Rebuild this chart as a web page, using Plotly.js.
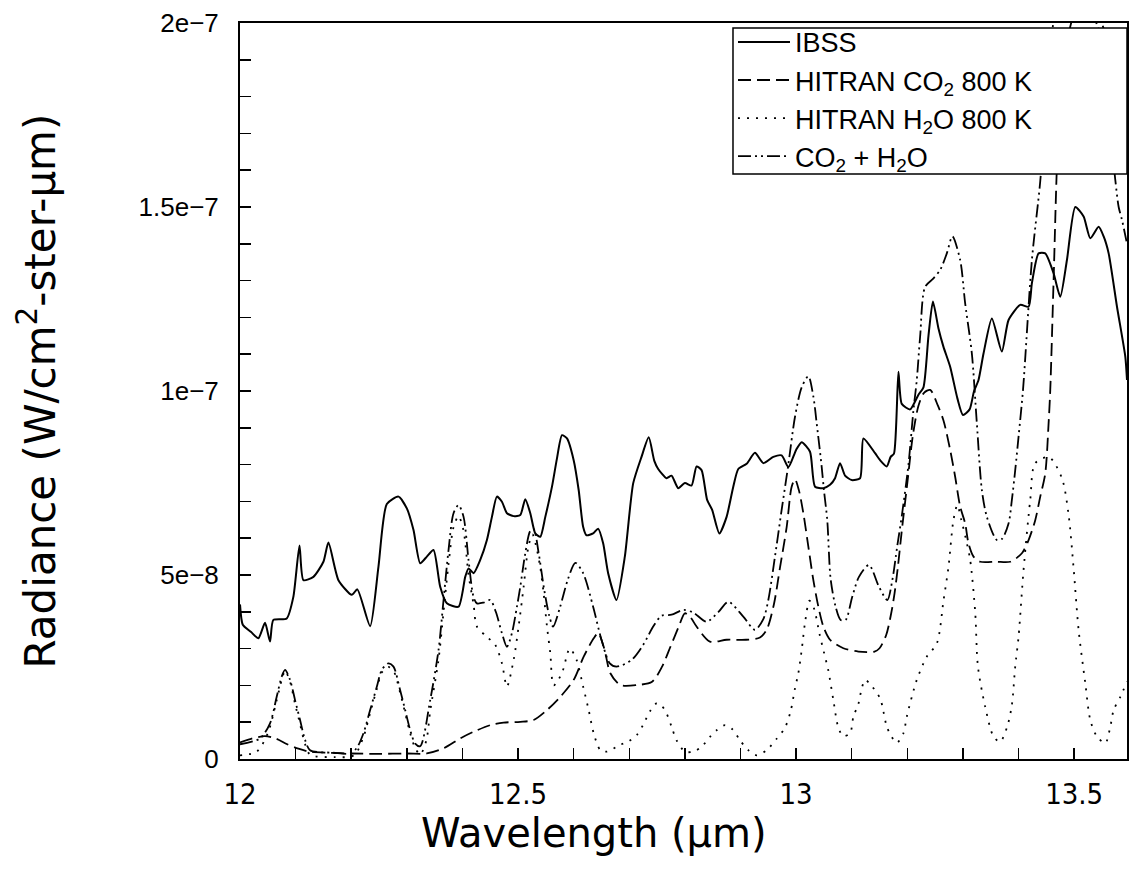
<!DOCTYPE html>
<html>
<head>
<meta charset="utf-8">
<script src="https://cdn.plot.ly/plotly-3.0.1.min.js"></script>
<style>
html,body{margin:0;padding:0;background:#fff;}
#chart{width:1132px;height:870px;}
</style>
</head>
<body>
<div id="chart"></div>
<script>
// Radiance values are given in units of 1e-8 W/cm2-ster-um
const UNIT = 1e-8;

const ibssX = [12.000,12.005,12.020,12.033,12.045,12.054,12.060,12.084,12.096,12.107,12.114,12.132,12.150,12.159,12.177,12.201,12.211,12.234,12.249,12.264,12.285,12.300,12.312,12.324,12.336,12.348,12.360,12.372,12.393,12.405,12.411,12.420,12.432,12.444,12.453,12.462,12.471,12.480,12.492,12.504,12.513,12.522,12.531,12.540,12.549,12.561,12.570,12.579,12.588,12.600,12.609,12.617,12.623,12.635,12.644,12.653,12.662,12.677,12.692,12.707,12.722,12.735,12.745,12.752,12.767,12.776,12.788,12.800,12.812,12.821,12.830,12.840,12.849,12.862,12.875,12.887,12.896,12.911,12.926,12.941,12.959,12.974,12.986,13.000,13.010,13.025,13.034,13.049,13.061,13.070,13.079,13.088,13.100,13.115,13.121,13.142,13.151,13.163,13.170,13.176,13.184,13.190,13.205,13.220,13.229,13.238,13.246,13.256,13.265,13.277,13.290,13.300,13.312,13.320,13.328,13.337,13.352,13.370,13.382,13.403,13.418,13.424,13.436,13.448,13.463,13.475,13.487,13.502,13.517,13.529,13.544,13.553,13.562,13.577,13.592,13.595];
const ibssY = [4.20,3.65,3.45,3.28,3.70,3.19,3.78,3.82,4.41,5.80,4.86,4.95,5.36,5.88,4.86,4.46,4.61,3.61,5.23,6.93,7.13,6.81,6.22,5.32,5.50,5.68,4.68,4.23,4.14,4.95,5.18,5.05,5.41,5.95,6.58,7.13,6.99,6.68,6.60,6.63,7.06,6.68,6.13,6.04,6.58,7.40,8.17,8.80,8.71,8.12,7.31,6.31,6.08,6.13,6.26,5.86,5.05,4.32,5.50,7.49,8.21,8.74,8.10,7.88,7.63,7.70,7.36,7.50,7.43,7.95,7.85,7.04,6.77,6.13,6.58,7.40,7.88,8.02,8.32,8.04,8.21,8.25,7.93,8.40,8.61,8.35,7.40,7.36,7.45,7.63,8.04,7.70,7.58,7.63,8.71,8.31,8.12,7.95,8.21,8.30,10.52,9.65,9.50,9.90,10.10,11.50,12.43,11.70,11.20,10.66,9.80,9.35,9.50,10.00,10.30,11.02,11.97,11.07,11.93,12.34,12.29,12.93,13.74,13.74,13.20,12.56,13.56,15.00,14.74,14.15,14.46,14.20,13.74,12.29,10.93,10.30];

const co2X = [12.000,12.020,12.045,12.065,12.085,12.105,12.125,12.160,12.200,12.250,12.300,12.336,12.366,12.396,12.420,12.450,12.474,12.504,12.528,12.552,12.576,12.600,12.618,12.636,12.644,12.655,12.666,12.684,12.714,12.741,12.759,12.774,12.789,12.800,12.810,12.821,12.845,12.875,12.910,12.935,12.947,12.960,12.971,12.983,12.992,12.998,13.005,13.013,13.022,13.031,13.040,13.049,13.061,13.085,13.112,13.141,13.150,13.162,13.171,13.177,13.183,13.190,13.200,13.210,13.220,13.230,13.241,13.255,13.265,13.277,13.286,13.295,13.304,13.310,13.319,13.331,13.360,13.385,13.406,13.418,13.430,13.439,13.448,13.454,13.457,13.463,13.470,13.480,13.520,13.560,13.595];
const co2Y = [0.45,0.55,0.62,0.55,0.40,0.28,0.20,0.17,0.15,0.14,0.15,0.15,0.29,0.56,0.74,0.92,0.99,1.01,1.06,1.33,1.69,2.15,2.78,3.28,3.42,3.00,2.33,2.01,2.01,2.10,2.51,3.05,3.60,3.96,3.85,3.60,3.19,3.24,3.24,3.30,3.51,4.20,5.20,6.30,7.40,7.60,7.30,6.68,5.77,4.86,4.14,3.60,3.24,3.01,2.92,2.92,3.01,3.37,3.96,4.50,5.22,6.20,7.50,8.80,9.60,9.95,10.03,9.60,9.20,8.40,7.67,6.86,6.40,5.86,5.50,5.36,5.36,5.36,5.59,5.95,6.49,7.13,7.76,9.12,10.03,13.00,16.50,19.00,21.00,19.50,17.00];

const h2oX = [12.000,12.030,12.050,12.066,12.075,12.081,12.090,12.099,12.108,12.117,12.126,12.170,12.205,12.222,12.234,12.246,12.255,12.267,12.276,12.288,12.297,12.306,12.315,12.324,12.335,12.342,12.357,12.366,12.375,12.384,12.393,12.402,12.411,12.420,12.426,12.444,12.459,12.471,12.480,12.492,12.501,12.510,12.519,12.526,12.534,12.540,12.546,12.552,12.558,12.564,12.579,12.593,12.605,12.617,12.627,12.636,12.648,12.660,12.684,12.699,12.714,12.725,12.737,12.749,12.758,12.767,12.776,12.785,12.800,12.815,12.830,12.845,12.857,12.872,12.886,12.899,12.914,12.929,12.947,12.965,12.980,12.990,12.998,13.004,13.010,13.016,13.024,13.032,13.042,13.050,13.058,13.067,13.076,13.085,13.097,13.103,13.112,13.118,13.124,13.135,13.151,13.157,13.163,13.172,13.181,13.193,13.199,13.217,13.235,13.253,13.265,13.274,13.283,13.290,13.297,13.305,13.313,13.322,13.327,13.340,13.355,13.367,13.380,13.388,13.394,13.400,13.409,13.421,13.430,13.455,13.478,13.490,13.499,13.508,13.520,13.529,13.541,13.556,13.565,13.571,13.583,13.595];
const h2oY = [0.10,0.20,0.70,1.60,2.15,2.40,2.10,1.50,0.95,0.40,0.12,0.05,0.10,0.60,1.25,1.90,2.35,2.50,2.40,1.80,1.25,0.70,0.30,0.12,0.50,1.30,2.70,4.00,5.30,6.30,6.60,6.20,5.00,4.20,3.60,3.32,3.10,2.60,1.97,2.69,3.60,4.68,5.80,6.10,5.68,5.20,4.50,3.60,2.87,2.00,2.34,3.00,2.70,1.97,1.33,0.70,0.24,0.20,0.39,0.48,0.66,0.93,1.29,1.51,1.45,1.24,0.88,0.51,0.20,0.20,0.33,0.60,0.78,0.92,0.80,0.51,0.24,0.10,0.24,0.55,0.85,1.29,1.92,2.33,2.96,3.70,4.30,4.10,3.40,2.90,2.40,1.60,0.85,0.62,0.70,1.15,1.50,1.92,2.15,2.00,1.65,1.29,0.88,0.60,0.44,0.70,1.15,2.15,2.78,3.14,4.30,5.22,6.50,6.90,6.50,6.00,5.41,4.00,2.51,1.42,0.61,0.47,0.90,1.47,2.51,3.32,5.14,7.04,8.04,8.20,7.63,6.63,5.18,3.50,2.06,1.06,0.61,0.43,0.88,1.33,1.69,2.10];

const sumX = [12.000,12.036,12.054,12.066,12.075,12.081,12.090,12.099,12.108,12.117,12.126,12.168,12.198,12.210,12.222,12.234,12.246,12.255,12.267,12.276,12.288,12.297,12.306,12.315,12.324,12.342,12.357,12.366,12.375,12.384,12.393,12.402,12.411,12.420,12.426,12.438,12.450,12.460,12.471,12.480,12.489,12.498,12.504,12.513,12.522,12.528,12.537,12.547,12.556,12.563,12.575,12.590,12.603,12.617,12.635,12.650,12.665,12.677,12.704,12.725,12.743,12.758,12.776,12.797,12.815,12.839,12.860,12.878,12.905,12.926,12.941,12.950,12.962,12.974,12.986,12.998,13.010,13.022,13.031,13.037,13.046,13.050,13.056,13.062,13.071,13.080,13.089,13.101,13.113,13.131,13.149,13.164,13.173,13.182,13.190,13.202,13.211,13.217,13.223,13.232,13.247,13.259,13.271,13.281,13.295,13.304,13.316,13.325,13.334,13.343,13.361,13.370,13.382,13.388,13.394,13.400,13.408,13.424,13.439,13.450,13.480,13.540,13.565,13.574,13.580,13.586,13.595];
const sumY = [0.40,0.56,0.97,1.69,2.24,2.42,2.15,1.60,1.06,0.52,0.24,0.17,0.15,0.30,0.70,1.33,1.96,2.42,2.60,2.51,1.87,1.33,0.79,0.42,0.35,1.60,2.96,4.32,5.68,6.68,6.90,6.58,5.40,4.40,4.23,4.25,4.32,4.00,3.42,3.05,3.42,4.14,4.68,5.59,6.20,6.25,5.60,4.60,3.90,3.60,4.10,4.90,5.33,5.05,4.14,3.24,2.60,2.51,2.69,3.10,3.60,3.89,3.92,4.05,3.98,3.73,3.99,4.27,3.87,3.51,3.80,4.32,5.50,6.77,8.00,9.30,10.10,10.40,9.85,9.12,7.94,7.31,6.49,4.90,4.14,3.78,3.78,4.41,4.95,5.27,4.68,4.32,4.86,5.80,6.60,8.00,9.48,10.30,11.48,12.83,13.06,13.29,13.74,14.20,13.56,12.38,11.02,9.12,7.31,6.58,5.95,5.98,6.40,7.04,7.85,8.76,10.03,13.56,15.70,18.00,21.00,20.00,17.00,15.73,15.00,14.65,14.00];

const seriesNames = ['IBSS', 'HITRAN CO<sub>2</sub> 800 K', 'HITRAN H<sub>2</sub>O 800 K', 'CO<sub>2</sub> + H<sub>2</sub>O'];
const yTickVals = [0, 5e-8, 1e-7, 1.5e-7, 2e-7];
const yTickText = ['0', '5e\u22128', '1e\u22127', '1.5e\u22127', '2e\u22127'];
const xTickVals = [12, 12.5, 13, 13.5];
const xTickText = ['12', '12.5', '13', '13.5'];

const toRadiance = arr => arr.map(v => v * UNIT);

const traces = [
  {x: ibssX, y: toRadiance(ibssY), name: seriesNames[0], mode: 'lines',
   line: {color: '#000', width: 2, shape: 'spline', smoothing: 0.6}},
  {x: co2X, y: toRadiance(co2Y), name: seriesNames[1], mode: 'lines',
   line: {color: '#000', width: 1.8, dash: '13px,6px', shape: 'spline', smoothing: 0.8}},
  {x: h2oX, y: toRadiance(h2oY), name: seriesNames[2], mode: 'lines',
   line: {color: '#000', width: 1.8, dash: '2px,7px', shape: 'spline', smoothing: 0.8}},
  {x: sumX, y: toRadiance(sumY), name: seriesNames[3], mode: 'lines',
   line: {color: '#000', width: 1.8, dash: '13px,4px,2px,4px,2px,4px', shape: 'spline', smoothing: 0.8}}
];

const axisCommon = {
  showline: true, linecolor: '#000', linewidth: 2, mirror: true,
  showgrid: false, zeroline: false,
  ticks: 'inside', ticklen: 11, tickwidth: 1.5, tickcolor: '#000',
  fixedrange: true
};

const layout = {
  width: 1132, height: 870,
  margin: {l: 240, r: 5, t: 23, b: 111, pad: 0},
  paper_bgcolor: '#fff', plot_bgcolor: '#fff',
  showlegend: true,
  legend: {
    x: 0.5558, xanchor: 'left', y: 1.007, yanchor: 'top',
    bgcolor: 'rgba(255,255,255,0)', borderwidth: 0,
    font: {family: 'Liberation Sans, Arial, sans-serif', size: 27, color: '#000'},
    itemwidth: 52,
    tracegroupgap: 0
  },
  shapes: [{
    type: 'rect', xref: 'paper', yref: 'paper', layer: 'above',
    x0: 0.5558, x1: 1, y0: 0.7948, y1: 0.9932,
    fillcolor: '#fff', line: {color: '#000', width: 1.5}
  }],
  xaxis: Object.assign({}, axisCommon, {
    range: [12, 13.595],
    tickmode: 'array', tickvals: xTickVals, ticktext: xTickText,
    minor: {tickmode: 'linear', tick0: 12, dtick: 0.1, ticks: 'inside', ticklen: 11, tickwidth: 1.5, tickcolor: '#000', showgrid: false},
    tickfont: {family: 'DejaVu Sans Condensed, Liberation Sans Narrow, sans-serif', size: 29, color: '#000'},
    ticklabelstandoff: 8
  }),
  yaxis: Object.assign({}, axisCommon, {
    range: [0, 2e-7],
    tickmode: 'array', tickvals: yTickVals, ticktext: yTickText,
    minor: {tickmode: 'linear', tick0: 0, dtick: 1e-8, ticks: 'inside', ticklen: 11, tickwidth: 1.5, tickcolor: '#000', showgrid: false},
    tickfont: {family: 'Liberation Sans, Arial, sans-serif', size: 26, color: '#000'},
    ticklabelstandoff: 14,
    title: {text: 'Radiance (W/cm<sup>2</sup>-ster-\u00b5m)', standoff: 70,
            font: {family: 'DejaVu Sans, sans-serif', size: 42, color: '#000'}}
  }),
  annotations: [{
    text: 'Wavelength (\u00b5m)', xref: 'x', yref: 'paper', x: 12.637, y: -0.1,
    xanchor: 'center', yanchor: 'middle', showarrow: false,
    font: {family: 'DejaVu Sans, sans-serif', size: 40, color: '#000'}
  }]
};

Plotly.newPlot('chart', traces, layout, {displayModeBar: false, staticPlot: true});
</script>
</body>
</html>
